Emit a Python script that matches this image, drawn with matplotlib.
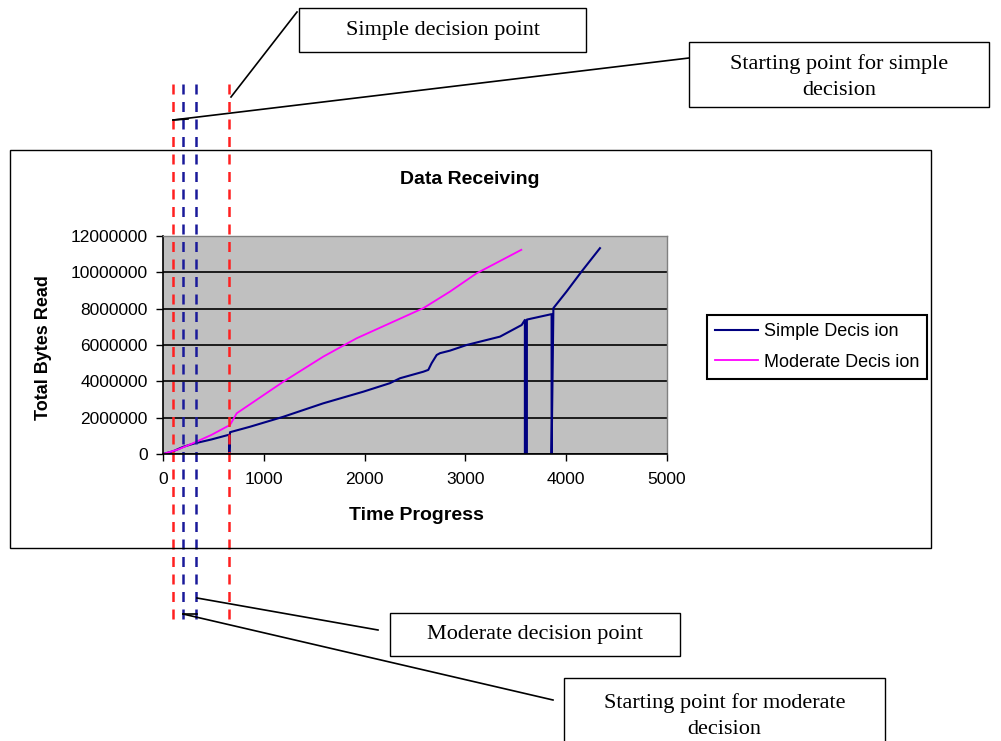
import matplotlib.pyplot as plt
from matplotlib.patches import Rectangle
from matplotlib.lines import Line2D
from matplotlib.transforms import blended_transform_factory

# Simple decision (navy); three drops to zero in the recorded series
simple_x = [0, 100, 202, 317, 480, 648, 658, 658, 665, 863, 1194, 1590, 1987, 2252, 2351,
            2583, 2632, 2665, 2715, 2748, 2847, 3012, 3343, 3558, 3590, 3590, 3610, 3610,
            3823, 3855, 3855, 3873, 4003, 4152, 4335]
simple_y = [0, 150000, 400000, 590000, 800000, 1050000, 1060000, 0, 1200000, 1500000,
            2050000, 2790000, 3430000, 3900000, 4170000, 4530000, 4630000, 5000000,
            5450000, 5550000, 5690000, 6000000, 6460000, 7100000, 7380000, 0, 0, 7400000,
            7660000, 7700000, 0, 8030000, 8940000, 10040000, 11330000]

# Moderate decision (magenta)
moderate_x = [0, 150, 300, 480, 665, 731, 1194, 1590, 1921, 2583, 2847, 3112, 3555]
moderate_y = [0, 250000, 600000, 1050000, 1600000, 2240000, 3980000, 5360000, 6370000,
              8030000, 8940000, 9950000, 11240000]

# decision markers (time progress)
red_marks = [99, 655]
blue_marks = [198, 327]

yticks = [0, 2000000, 4000000, 6000000, 8000000, 10000000, 12000000]
xticks = [0, 1000, 2000, 3000, 4000, 5000]

W, H = 1001, 741
fig = plt.figure(figsize=(W / 100, H / 100), dpi=100)
fig.patch.set_facecolor('white')

def fx(px):
    return px / W

def fy(py):
    return 1 - py / H

# outer chart frame
fig.patches.append(Rectangle((fx(10), fy(548)), fx(931) - fx(10), fy(150) - fy(548),
                             transform=fig.transFigure, fill=False, ec='black', lw=1))

ax = fig.add_axes([fx(163), fy(454), fx(667) - fx(163), fy(236) - fy(454)])
ax.set_facecolor('#c0c0c0')
ax.set_xlim(0, 5000)
ax.set_ylim(0, 12000000)
ax.set_xticks(xticks)
ax.set_yticks(yticks)
ax.set_xticklabels([str(v) for v in xticks])
ax.set_yticklabels([str(v) for v in yticks])
ax.tick_params(direction='out', length=5, width=1, labelsize=12.5, colors='black')
ax.tick_params(axis='y', pad=6)
ax.tick_params(axis='x', pad=8)
for lab in ax.get_xticklabels() + ax.get_yticklabels():
    lab.set_family('Liberation Sans')
ax.grid(axis='y', color='black', lw=1.2)
ax.set_axisbelow(True)
for s in ['top', 'right']:
    ax.spines[s].set_color('#808080')
    ax.spines[s].set_linewidth(1)
for s in ['left', 'bottom']:
    ax.spines[s].set_color('black')
    ax.spines[s].set_linewidth(1.2)

l1, = ax.plot(simple_x, simple_y, color='#000080', lw=1.5)
l2, = ax.plot(moderate_x, moderate_y, color='#ff00ff', lw=1.3)

font = {'family': 'Liberation Sans', 'weight': 'bold', 'size': 14}
fig.text(fx(470), fy(180), 'Data Receiving', ha='center', va='center', fontdict=font)
fig.text(fx(416), fy(516), 'Time Progress', ha='center', va='center', fontdict=font)
fig.text(fx(43), fy(348), 'Total Bytes Read', ha='center', va='center', rotation=90,
         fontdict=dict(font, size=13))

leg = fig.legend([l1, l2], ['Simple Decis ion', 'Moderate Decis ion'],
                 loc='upper left', bbox_to_anchor=(fx(707), fy(315)),
                 bbox_transform=fig.transFigure, prop={'family': 'Liberation Sans', 'size': 13},
                 fancybox=False, edgecolor='black', framealpha=1, handlelength=2.4,
                 borderpad=0.45, labelspacing=0.75, handletextpad=0.3, borderaxespad=0)
leg.get_frame().set_linewidth(1.5)

# dashed decision lines spanning beyond the chart
blend = blended_transform_factory(ax.transData, fig.transFigure)
for xm in red_marks:
    ax.plot([xm, xm], [fy(84), fy(622)], transform=blend, clip_on=False,
            color='#ff2020', lw=1.8, dashes=(4, 3))
for xm in blue_marks:
    ax.plot([xm, xm], [fy(84), fy(622)], transform=blend, clip_on=False,
            color='#1a1a9a', lw=1.8, dashes=(4, 3))

# callout boxes
boxes = [
    (299, 8, 586, 52, 'Simple decision point', 30),
    (689, 42, 989, 107, 'Starting point for simple\ndecision', 77),
    (390, 613, 680, 656, 'Moderate decision point', 634),
    (564, 678, 885, 760, 'Starting point for moderate\ndecision', 716),
]
for x0, y0, x1, y1, txt, ty in boxes:
    fig.patches.append(Rectangle((fx(x0), fy(y1)), fx(x1) - fx(x0), fy(y0) - fy(y1),
                                 transform=fig.transFigure, fill=True, fc='white',
                                 ec='black', lw=1, clip_on=False))
    fig.text(fx((x0 + x1) / 2), fy(ty), txt, ha='center', va='center',
             family='Liberation Serif', size=16, linespacing=1.55)

# leader lines
leaders = [
    ((231, 97), (297, 12)),
    ((173, 120), (689, 58)),
    ((197, 598), (378, 630)),
    ((183, 614), (553, 700)),
]
for (xa, ya), (xb, yb) in leaders:
    fig.lines.append(Line2D([fx(xa), fx(xb)], [fy(ya), fy(yb)], transform=fig.transFigure,
                            color='black', lw=1.2))
fig.lines.append(Line2D([fx(173), fx(188)], [fy(120), fy(119)], transform=fig.transFigure,
                        color='black', lw=1.2))
fig.lines.append(Line2D([fx(183), fx(197)], [fy(614), fy(614)], transform=fig.transFigure,
                        color='black', lw=1.2))

fig.savefig('out.png', dpi=100)
